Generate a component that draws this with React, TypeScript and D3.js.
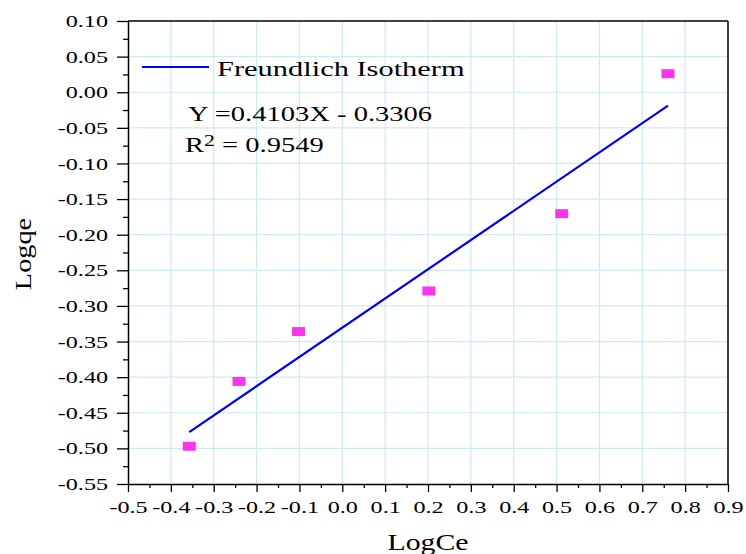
import React, { useEffect, useRef } from "react";
import * as d3 from "d3";

// data
const logCe = [-0.357, -0.241, -0.102, 0.202, 0.512, 0.76];
const logQe = [-0.497, -0.406, -0.336, -0.279, -0.1705, 0.026];
const slope = 0.4103;
const intercept = -0.3306;
const rSquared = "0.9549";
const xTicks = [-0.5, -0.4, -0.3, -0.2, -0.1, 0.0, 0.1, 0.2, 0.3, 0.4, 0.5, 0.6, 0.7, 0.8, 0.9];
const yTicks = [0.1, 0.05, 0.0, -0.05, -0.1, -0.15, -0.2, -0.25, -0.3, -0.35, -0.4, -0.45, -0.5, -0.55];

const W = 746;
const H = 554;
const margin = { top: 21, right: 18, bottom: 70, left: 128 };
const FONT = "'Liberation Serif', 'Times New Roman', serif";
// the original text is stretched sideways
const TICK_SX = 1.38;

function App() {
  const ref = useRef<SVGSVGElement>(null);

  useEffect(() => {
    const svgEl = d3.select(ref.current);
    svgEl.selectAll("*").remove();
    const width = W - margin.left - margin.right;
    const height = H - margin.top - margin.bottom;

    const x = d3.scaleLinear().domain([-0.5, 0.9]).range([0, width]);
    const y = d3.scaleLinear().domain([-0.55, 0.1]).range([height, 0]);

    const svg = svgEl
      .append("g")
      .attr("transform", `translate(${margin.left},${margin.top})`);

    // grid
    svg
      .append("g")
      .selectAll("line")
      .data(xTicks.slice(1, -1))
      .join("line")
      .attr("x1", (d) => x(d))
      .attr("x2", (d) => x(d))
      .attr("y1", 0)
      .attr("y2", height)
      .attr("stroke", "#cde9f9")
      .attr("stroke-width", 1.2);
    svg
      .append("g")
      .selectAll("line")
      .data(yTicks.slice(1, -1))
      .join("line")
      .attr("x1", 0)
      .attr("x2", width)
      .attr("y1", (d) => y(d))
      .attr("y2", (d) => y(d))
      .attr("stroke", "#cde9f9")
      .attr("stroke-width", 1.2);

    // minor ticks
    const xMinor = d3.range(-0.45, 0.9, 0.1);
    const yMinor = d3.range(-0.525, 0.1, 0.05);
    svg
      .append("g")
      .attr("transform", `translate(0,${height})`)
      .call(d3.axisBottom(x).tickValues(xMinor).tickSize(4).tickFormat(() => ""))
      .call((g) => g.select(".domain").remove())
      .selectAll("line")
      .attr("stroke-width", 1.3);
    svg
      .append("g")
      .call(d3.axisLeft(y).tickValues(yMinor).tickSize(5).tickFormat(() => ""))
      .call((g) => g.select(".domain").remove())
      .selectAll("line")
      .attr("stroke-width", 1.3);

    // axes
    const xAxis = svg
      .append("g")
      .attr("transform", `translate(0,${height})`)
      .call(
        d3
          .axisBottom(x)
          .tickValues(xTicks)
          .tickSize(8)
          .tickSizeOuter(0)
          .tickFormat((d) => d3.format(".1f")(d as number).replace("−", "-"))
      );
    xAxis.selectAll("line").attr("stroke-width", 1.3);
    xAxis.select(".domain").attr("stroke-width", 1.5);
    xAxis
      .selectAll("text")
      .attr("font-family", FONT)
      .attr("font-size", 17.5)
      .attr("fill", "#000")
      .attr("y", 9)
      .attr("dy", "1.12em")
      .attr("transform", `scale(${TICK_SX},1)`);

    const yAxis = svg
      .append("g")
      .call(
        d3
          .axisLeft(y)
          .tickValues(yTicks)
          .tickSize(11)
          .tickSizeOuter(0)
          .tickFormat((d) => d3.format(".2f")(d as number).replace("−", "-"))
      );
    yAxis.selectAll("line").attr("stroke-width", 1.3);
    yAxis.select(".domain").attr("stroke-width", 1.5);
    yAxis
      .selectAll("text")
      .attr("font-family", FONT)
      .attr("font-size", 17.5)
      .attr("fill", "#000")
      .attr("x", -20 / TICK_SX)
      .attr("transform", `scale(${TICK_SX},1)`);

    // top and right frame
    svg
      .append("line")
      .attr("x1", 0)
      .attr("x2", width)
      .attr("y1", 0)
      .attr("y2", 0)
      .attr("stroke", "#000")
      .attr("stroke-width", 1.5);
    svg
      .append("line")
      .attr("x1", width)
      .attr("x2", width)
      .attr("y1", 0)
      .attr("y2", height)
      .attr("stroke", "#000")
      .attr("stroke-width", 1.5);

    // fit line
    const [xmin, xmax] = d3.extent(logCe) as [number, number];
    const fit = [xmin, xmax].map((v) => [v, slope * v + intercept]);
    svg
      .append("path")
      .datum(fit)
      .attr("fill", "none")
      .attr("stroke", "#0000f0")
      .attr("stroke-width", 2.2)
      .attr(
        "d",
        d3
          .line<number[]>()
          .x((d) => x(d[0]))
          .y((d) => y(d[1]))
      );

    // points
    svg
      .append("g")
      .selectAll("rect")
      .data(logCe.map((v, i) => [v, logQe[i]]))
      .join("rect")
      .attr("x", (d) => x(d[0]) - 6.5)
      .attr("y", (d) => y(d[1]) - 4.5)
      .attr("width", 13)
      .attr("height", 9)
      .attr("fill", "#ff33ee");

    // legend
    svg
      .append("line")
      .attr("x1", 14)
      .attr("x2", 81)
      .attr("y1", 46)
      .attr("y2", 46)
      .attr("stroke", "#0000f0")
      .attr("stroke-width", 2);
    svg
      .append("text")
      .attr("transform", "translate(89,55) scale(1.45,1)")
      .attr("font-family", FONT)
      .attr("font-size", 21)
      .text("Freundlich Isotherm");
    svg
      .append("text")
      .attr("transform", "translate(60,100) scale(1.36,1)")
      .attr("font-family", FONT)
      .attr("font-size", 21)
      .text(`Y =${slope}X - ${Math.abs(intercept)}`);
    const r2 = svg
      .append("text")
      .attr("transform", "translate(57,130.5) scale(1.36,1)")
      .attr("font-family", FONT)
      .attr("font-size", 21);
    r2.append("tspan").text("R");
    r2.append("tspan").attr("dy", -6).attr("font-size", 16).text("2");
    r2.append("tspan").attr("dy", 6).text(` = ${rSquared}`);

    // axis titles
    svg
      .append("text")
      .attr("transform", `translate(${width / 2},${height + 66}) scale(1.24,1)`)
      .attr("text-anchor", "middle")
      .attr("font-family", FONT)
      .attr("font-size", 24)
      .text("LogCe");
    svg
      .append("text")
      .attr("transform", `translate(${-97.5},${height / 2 + 1.5}) rotate(-90) scale(1.18,1)`)
      .attr("text-anchor", "middle")
      .attr("font-family", FONT)
      .attr("font-size", 24)
      .text("Logqe");
  }, []);

  return (
    <div>
      <style>{`body{margin:0}`}</style>
      <svg ref={ref} width={W} height={H} style={{ display: "block", background: "#fff" }} />
    </div>
  );
}

export default App;
